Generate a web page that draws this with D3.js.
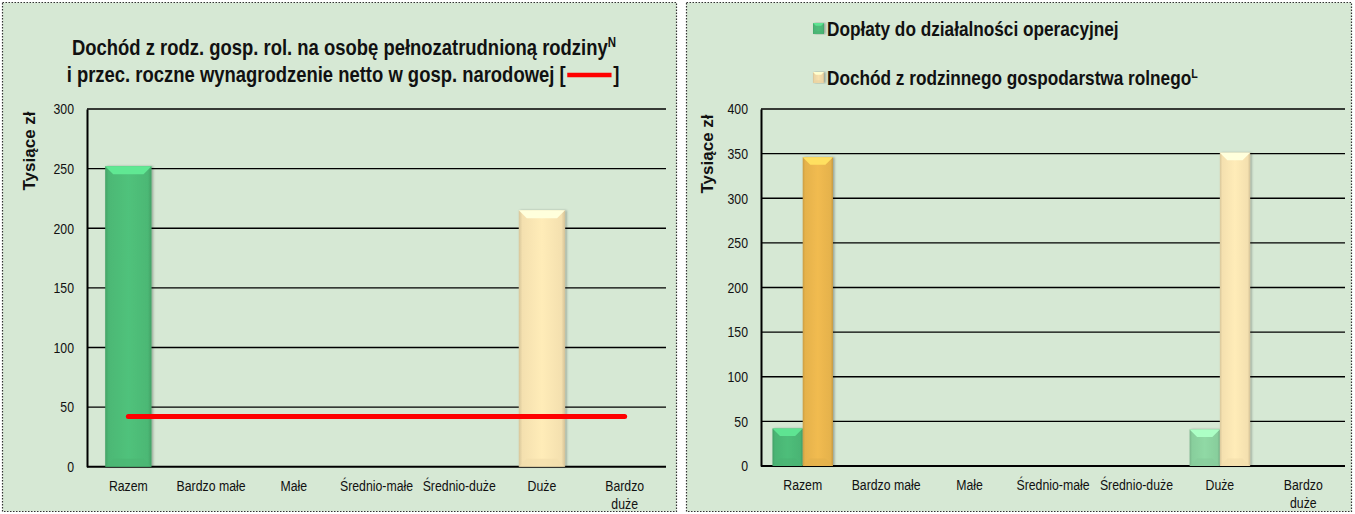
<!DOCTYPE html>
<html><head><meta charset="utf-8">
<script src="https://cdn.jsdelivr.net/npm/d3@7"></script>
<style>
html,body{margin:0;padding:0;background:#fff;}
svg{display:block;}
text{font-family:"Liberation Sans",Arial,sans-serif;fill:#111;}
</style></head>
<body>
<svg id="c" width="1355" height="514"></svg>
<script>
// ---------- DATA ----------
const categories = ["Razem","Bardzo małe","Małe","Średnio-małe","Średnio-duże","Duże","Bardzo duże"];
const categoryLabelLines = [["Razem"],["Bardzo małe"],["Małe"],["Średnio-małe"],["Średnio-duże"],["Duże"],["Bardzo","duże"]];

// left chart
const leftTitle1 = "Dochód z rodz. gosp. rol. na osobę pełnozatrudnioną rodziny";
const leftTitle1Sup = "N";
const leftTitle2 = "i przec. roczne wynagrodzenie netto w gosp. narodowej [";
const leftTitle2End = "]";
const leftIncome = [252, null, null, null, null, 215, null];
const leftWage = [42, 42, 42, 42, 42, 42, 42];
const leftTicks = [0, 50, 100, 150, 200, 250, 300];
const leftBarColors = ["#4fbf79", null, null, null, null, "#fde8b5", null];

// right chart
const rightSeriesNames = ["Dopłaty do działalności operacyjnej", "Dochód z rodzinnego gospodarstwa rolnego"];
const rightSeriesSup = ["", "L"];
const rightSubsidies = [42, null, null, null, null, 41, null];
const rightIncome = [346, null, null, null, null, 351, null];
const rightTicks = [0, 50, 100, 150, 200, 250, 300, 350, 400];
const rightSubsidyColors = ["#4dbb78", null, null, null, null, "#8dd5a2", null];
const rightIncomeColors = ["#edb84f", null, null, null, null, "#fde8b5", null];
const rightLegendColors = ["#4dbb78", "#f3dcaa"];

const yLabel = "Tysiące zł";
const NARROW = 0.82;

// ---------- DRAW ----------
const svg = d3.select("#c");
const defs = svg.append("defs");
const f = defs.append("filter").attr("id","sh").attr("x","-20%").attr("y","-5%").attr("width","140%").attr("height","110%");
f.append("feDropShadow").attr("dx",1.5).attr("dy",0).attr("stdDeviation",1.2).attr("flood-color","#000").attr("flood-opacity",0.3);

let gid = 0;
function gradFor(color){
  const id = "g" + (gid++);
  const c = d3.color(color);
  const lg = defs.append("linearGradient").attr("id", id).attr("x1","0").attr("x2","1").attr("y1","0").attr("y2","0");
  lg.append("stop").attr("offset","0").attr("stop-color", c.darker(0.45));
  lg.append("stop").attr("offset","0.08").attr("stop-color", c.darker(0.1));
  lg.append("stop").attr("offset","0.5").attr("stop-color", c.brighter(0.05));
  lg.append("stop").attr("offset","0.92").attr("stop-color", c.darker(0.1));
  lg.append("stop").attr("offset","1").attr("stop-color", c.darker(0.5));
  return "url(#" + id + ")";
}

function bevelBar(g, x, y, w, h, color){
  const c = d3.color(color);
  const b = Math.min(8, w/4, h/2);
  g.append("rect").attr("x",x).attr("y",y).attr("width",w).attr("height",h)
    .attr("fill", gradFor(color)).attr("filter","url(#sh)");
  g.append("path").attr("d", `M${x},${y}L${x+w},${y}L${x+w-b},${y+b}L${x+b},${y+b}Z`)
    .attr("fill", c.brighter(0.55));
  g.append("path").attr("d", `M${x},${y+h}L${x+w},${y+h}L${x+w-b},${y+h-b}L${x+b},${y+h-b}Z`)
    .attr("fill", c.darker(0.12)).attr("opacity",0.7);
}

function panel(x, w){
  svg.append("rect").attr("x", x).attr("y", 2.5).attr("width", w).attr("height", 509)
    .attr("fill", "#d6e8d4").attr("stroke", "#333").attr("stroke-width", 1.2).attr("stroke-dasharray", "1.5,1.5");
}

function axesFrame(g, x, y, ticks, x0, x1, labelX, labelY){
  g.selectAll("line.grid").data(ticks).join("line").attr("class","grid")
    .attr("x1", x0).attr("x2", x1).attr("y1", d => y(d)).attr("y2", d => y(d))
    .attr("stroke", "#000").attr("stroke-width", d => d === 0 ? 2 : 1.4);
  const ya = d3.axisLeft(y).tickValues(ticks).tickSize(0).tickPadding(14);
  const yg = g.append("g").attr("transform", `translate(${x0},0)`).call(ya);
  yg.select(".domain").attr("stroke", "#000").attr("stroke-width", 2);
  yg.selectAll("text").attr("font-size", 15).attr("fill", "#111")
    .attr("x", -13 / NARROW).attr("transform", `scale(${NARROW},1)`)
    .style("font-family", '"Liberation Sans",Arial,sans-serif');
  const xa = d3.axisBottom(x).tickSize(0).tickFormat(() => "");
  const xg = g.append("g").attr("transform", `translate(0,${y(0)})`).call(xa);
  xg.select(".domain").remove();
  xg.selectAll(".tick").each(function(d, i){
    const t = d3.select(this).select("text").attr("y", 0).attr("dy", null).attr("transform", `scale(${NARROW},1)`);
    categoryLabelLines[i].forEach((ln, j) => {
      t.append("tspan").attr("x", 0).attr("y", 24 + j * 18).text(ln);
    });
  });
  xg.selectAll("text").attr("font-size", 15).attr("fill", "#111")
    .style("font-family", '"Liberation Sans",Arial,sans-serif');
  g.append("text").attr("transform", `translate(${labelX},${labelY}) rotate(-90)`)
    .attr("text-anchor", "middle").attr("font-weight", "bold").attr("font-size", 17).text(yLabel);
}

// ===== LEFT =====
panel(2.5, 674);
const gl = svg.append("g");
const xL = d3.scaleBand().domain(categories).range([87, 666]);
const yL = d3.scaleLinear().domain([0, 300]).range([466.7, 109]);
axesFrame(gl, xL, yL, leftTicks, 87, 666, 35, 151);

const bwL = xL.bandwidth() * 0.56;
categories.forEach((c, i) => {
  const v = leftIncome[i];
  if (v == null) return;
  const x = xL(c) + (xL.bandwidth() - bwL) / 2;
  bevelBar(gl, x, yL(v), bwL, yL(0) - yL(v), leftBarColors[i]);
});
const line = d3.line().x((d, i) => xL(categories[i]) + xL.bandwidth() / 2).y(d => yL(d));
gl.append("path").datum(leftWage).attr("d", line).attr("fill", "none")
  .attr("stroke", "#ff0000").attr("stroke-width", 5).attr("stroke-linecap", "round");

// titles
const t1g = gl.append("g").attr("transform", `translate(344,55) scale(${NARROW},1)`);
const tl1 = t1g.append("text").attr("x", 0).attr("y", 0).attr("text-anchor", "middle")
  .attr("font-weight", "bold").attr("font-size", 22.5);
tl1.append("tspan").text(leftTitle1);
tl1.append("tspan").attr("font-size", 14).attr("dy", -8).text(leftTitle1Sup);
const t2g = gl.append("g").attr("transform", `translate(343,82) scale(${NARROW},1)`);
const tl2 = t2g.append("text").attr("x", 0).attr("y", 0).attr("text-anchor", "middle")
  .attr("font-weight", "bold").attr("font-size", 22.5);
tl2.append("tspan").text(leftTitle2);
tl2.append("tspan").attr("dx", 58).text(leftTitle2End);
{
  const n = tl2.node();
  const iOpen = leftTitle2.length - 1;
  const iClose = leftTitle2.length;
  const a = n.getExtentOfChar(iOpen), b = n.getExtentOfChar(iClose);
  const yy = a.y + a.height * 0.55;
  t2g.append("line").attr("x1", a.x + a.width + 2).attr("x2", b.x - 2).attr("y1", yy).attr("y2", yy)
    .attr("stroke", "#ff0000").attr("stroke-width", 4.5);
}

// ===== RIGHT =====
panel(686.5, 665);
const gr = svg.append("g");
const xR = d3.scaleBand().domain(categories).range([761, 1345]);
const yR = d3.scaleLinear().domain([0, 400]).range([466, 109]);
axesFrame(gr, xR, yR, rightTicks, 761, 1345, 713, 154);

const groupW = xR.bandwidth() * 0.725;
const xSub = d3.scaleBand().domain([0, 1]).range([0, groupW]);
const seriesR = [rightSubsidies, rightIncome];
const colorsR = [rightSubsidyColors, rightIncomeColors];
categories.forEach((c, i) => {
  seriesR.forEach((s, k) => {
    const v = s[i];
    if (v == null) return;
    const x = xR(c) + (xR.bandwidth() - groupW) / 2 + xSub(k);
    bevelBar(gr, x, yR(v), xSub.bandwidth(), yR(0) - yR(v), colorsR[k][i]);
  });
});

// legend
const legY = [36, 85];
rightSeriesNames.forEach((name, k) => {
  const lx = 813, ly = legY[k];
  bevelBar(gr, lx, ly - 13, 11, 11, rightLegendColors[k]);
  const tg = gr.append("g").attr("transform", `translate(${lx + 14},${ly}) scale(${NARROW},1)`);
  const t = tg.append("text").attr("x", 0).attr("y", 0).attr("font-weight", "bold").attr("font-size", 21);
  t.append("tspan").text(name);
  if (rightSeriesSup[k]) t.append("tspan").attr("font-size", 13).attr("dy", -7).text(rightSeriesSup[k]);
});
</script>
</body></html>
